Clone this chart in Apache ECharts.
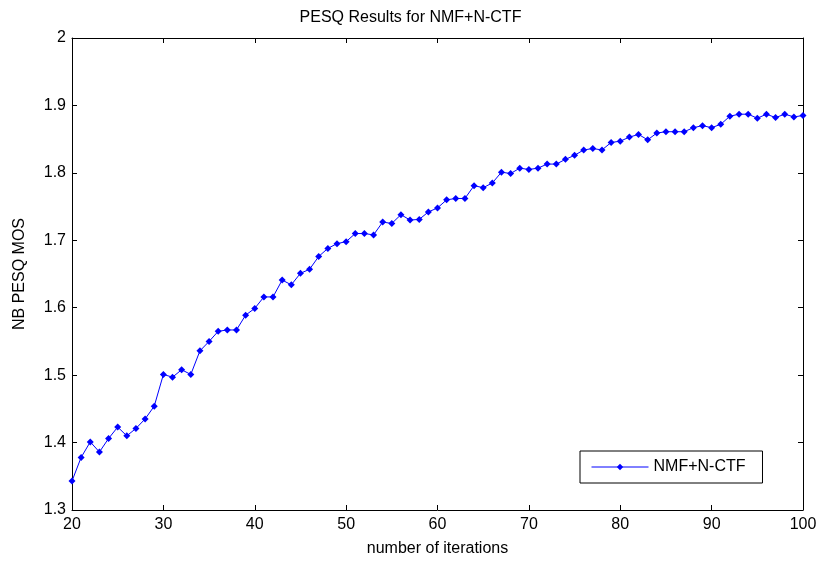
<!DOCTYPE html>
<html>
<head>
<meta charset="utf-8">
<script src="https://cdn.jsdelivr.net/npm/echarts@6/dist/echarts.min.js"></script>
<style>
  html, body { margin: 0; padding: 0; background: #fff; }
  #chart { width: 821px; height: 564px; }
</style>
</head>
<body>
<div id="chart"></div>
<script>
// iterations 20..100
const iterations = [
  20, 21, 22, 23, 24, 25, 26, 27, 28, 29,
  30, 31, 32, 33, 34, 35, 36, 37, 38, 39,
  40, 41, 42, 43, 44, 45, 46, 47, 48, 49,
  50, 51, 52, 53, 54, 55, 56, 57, 58, 59,
  60, 61, 62, 63, 64, 65, 66, 67, 68, 69,
  70, 71, 72, 73, 74, 75, 76, 77, 78, 79,
  80, 81, 82, 83, 84, 85, 86, 87, 88, 89,
  90, 91, 92, 93, 94, 95, 96, 97, 98, 99, 100
];
const mos = [
  1.343, 1.378, 1.401, 1.386, 1.406, 1.423, 1.410, 1.421, 1.435, 1.454,
  1.501, 1.497, 1.508, 1.501, 1.536, 1.550, 1.565, 1.567, 1.567, 1.589,
  1.599, 1.616, 1.616, 1.641, 1.634, 1.651, 1.657, 1.676, 1.688, 1.695,
  1.698, 1.710, 1.710, 1.708, 1.727, 1.725, 1.738, 1.730, 1.731, 1.742,
  1.748, 1.760, 1.762, 1.762, 1.781, 1.778, 1.785, 1.801, 1.799, 1.807,
  1.805, 1.807, 1.813, 1.813, 1.820, 1.826, 1.834, 1.836, 1.834, 1.845,
  1.847, 1.853, 1.857, 1.849, 1.859, 1.861, 1.861, 1.861, 1.867, 1.870,
  1.867, 1.872, 1.884, 1.887, 1.887, 1.881, 1.887, 1.882, 1.887, 1.883, 1.885
];
const seriesName = 'NMF+N-CTF';

const font = 'Liberation Sans, Arial, sans-serif';
const axisCommon = {
  axisLine: { show: true, onZero: false, lineStyle: { color: '#000', width: 1 } },
  axisTick: { show: true, inside: true, length: 5, lineStyle: { color: '#000' } },
  splitLine: { show: false }
};

const chart = echarts.init(document.getElementById('chart'));
chart.setOption({
  animation: false,
  backgroundColor: '#fff',
  textStyle: { fontFamily: font },
  title: {
    text: 'PESQ Results for NMF+N-CTF',
    left: 'center',
    top: 5,
    textStyle: { fontSize: 16, fontWeight: 'normal', color: '#000', fontFamily: font }
  },
  legend: {
    left: 580,
    top: 451,
    padding: [8, 17, 8, 11],
    itemWidth: 57,
    itemHeight: 8,
    borderColor: '#000',
    borderWidth: 1,
    lineStyle: { width: 1 },
    textStyle: { fontSize: 16, color: '#000', fontFamily: font },
    data: [seriesName]
  },
  grid: { left: 72, right: 18, top: 38, bottom: 54 },
  xAxis: [
    Object.assign({
      type: 'value', min: 20, max: 100, interval: 10,
      name: 'number of iterations', nameLocation: 'middle', nameGap: 31,
      nameTextStyle: { fontSize: 16, color: '#000', fontFamily: font },
      axisLabel: { fontSize: 16, color: '#000', margin: 7, fontFamily: font }
    }, axisCommon),
    Object.assign({
      type: 'value', min: 20, max: 100, interval: 10, position: 'top',
      axisLabel: { show: false }
    }, axisCommon)
  ],
  yAxis: [
    Object.assign({
      type: 'value', min: 1.3, max: 2, interval: 0.1,
      name: 'NB PESQ MOS', nameLocation: 'middle', nameGap: 44,
      nameTextStyle: { fontSize: 16, color: '#000', fontFamily: font },
      axisLabel: {
        fontSize: 16, color: '#000', margin: 6, fontFamily: font,
        formatter: v => String(Math.round(v * 10) / 10)
      }
    }, axisCommon),
    Object.assign({
      type: 'value', min: 1.3, max: 2, interval: 0.1, position: 'right',
      axisLabel: { show: false }
    }, axisCommon)
  ],
  series: [{
    name: seriesName,
    type: 'line',
    data: iterations.map((x, i) => [x, mos[i]]),
    symbol: 'diamond',
    symbolSize: 7,
    showAllSymbol: true,
    color: '#0000ff',
    lineStyle: { color: '#0000ff', width: 1 },
    itemStyle: { color: '#0000ff' }
  }]
});
</script>
</body>
</html>
